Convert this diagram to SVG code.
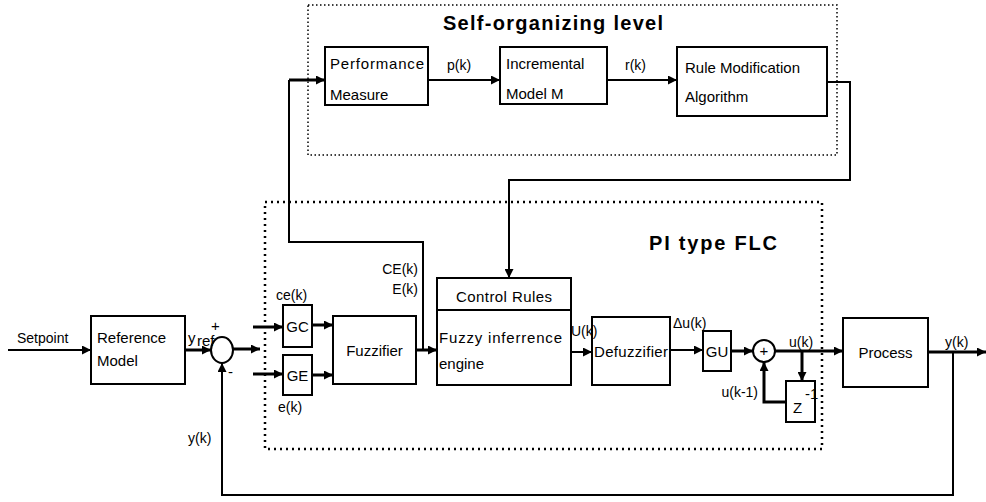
<svg xmlns="http://www.w3.org/2000/svg" width="986" height="502" viewBox="0 0 986 502">
<defs>
<style>
text{font-family:"Liberation Sans",Arial,sans-serif;fill:#000;font-size:15px}
.lbl{font-size:14px}
.title{font-size:20px;font-weight:bold}
.box{fill:#fff;stroke:#000;stroke-width:2}
.ln{fill:none;stroke:#000;stroke-width:2}
.thk{fill:none;stroke:#000;stroke-width:3}
.dot1{fill:none;stroke:#000;stroke-width:1.5;stroke-dasharray:1.5 2.5}
.dot2{fill:none;stroke:#000;stroke-width:2.5;stroke-dasharray:2 4}
</style>
<marker id="ah" viewBox="0 0 10 10" refX="10" refY="5" markerWidth="10" markerHeight="9" markerUnits="userSpaceOnUse" orient="auto">
<path d="M0,0 L10,5 L0,10 z" fill="#000"/>
</marker>
</defs>

<rect width="986" height="502" fill="#fff"/>

<g id="self-organizing-level">
<rect class="dot1" x="308" y="5" width="529" height="150"/>
<text class="title" x="443" y="30" textLength="220">Self-organizing level</text>
</g>
<g id="pi-type-flc">
<rect class="dot2" x="265" y="202" width="557" height="247"/>
<text class="title" x="649" y="250" font-size="19" textLength="128">PI type FLC</text>
</g>

<g id="connectors">
<line class="ln" x1="428" y1="80" x2="500" y2="80" marker-end="url(#ah)"/>
<line class="ln" x1="607" y1="80" x2="677" y2="80" marker-end="url(#ah)"/>
<polyline class="ln" points="827,82 850,82 850,180 509,180 509,278" marker-end="url(#ah)"/>
<polyline class="ln" points="423,350 423,242 289,242 289,80"/>
<line class="thk" x1="289" y1="80" x2="325" y2="80" marker-end="url(#ah)"/>
<line class="ln" x1="8" y1="350" x2="91" y2="350" marker-end="url(#ah)"/>
<line class="thk" x1="185" y1="350" x2="211" y2="350" marker-end="url(#ah)"/>
<line class="thk" x1="233" y1="349" x2="260" y2="349" marker-end="url(#ah)"/>
<line class="thk" x1="253" y1="327" x2="283" y2="327" marker-end="url(#ah)"/>
<line class="thk" x1="253" y1="374" x2="283" y2="374" marker-end="url(#ah)"/>
<line class="thk" x1="312" y1="325" x2="333" y2="325" marker-end="url(#ah)"/>
<line class="thk" x1="312" y1="375" x2="333" y2="375" marker-end="url(#ah)"/>
<line class="thk" x1="416" y1="350" x2="437" y2="350" marker-end="url(#ah)"/>
<line class="ln" x1="571" y1="352" x2="592" y2="352" marker-end="url(#ah)"/>
<line class="ln" x1="670" y1="350" x2="703" y2="350" marker-end="url(#ah)"/>
<line class="thk" x1="731" y1="351" x2="753" y2="351" marker-end="url(#ah)"/>
<line class="thk" x1="775" y1="351" x2="843" y2="351" marker-end="url(#ah)"/>
<line class="thk" x1="802" y1="351" x2="802" y2="381" marker-end="url(#ah)"/>
<polyline class="thk" points="786,402 764,402 764,362" marker-end="url(#ah)"/>
<line class="thk" x1="928" y1="352" x2="986" y2="352" marker-end="url(#ah)"/>
<polyline class="ln" points="953,352 953,495 222,495 222,363" marker-end="url(#ah)"/>
</g>

<g id="performance-measure">
<rect class="box" x="325" y="47" width="103" height="58"/>
<text x="330" y="69" textLength="94">Performance</text>
<text x="330" y="100">Measure</text>
</g>
<g id="incremental-model">
<rect class="box" x="500" y="47" width="107" height="57"/>
<text x="506" y="69">Incremental</text>
<text x="506" y="99">Model M</text>
</g>
<g id="rule-modification">
<rect class="box" x="677" y="47" width="150" height="69"/>
<text x="685" y="73">Rule Modification</text>
<text x="685" y="102">Algorithm</text>
</g>

<g id="reference-model">
<rect class="box" x="91" y="316" width="94" height="68"/>
<text x="97" y="343">Reference</text>
<text x="97" y="366">Model</text>
</g>
<g id="sum1">
<ellipse class="box" cx="222" cy="350" rx="11" ry="13"/>
</g>
<g id="gc">
<rect class="box" x="283" y="305" width="29" height="42"/>
<text x="297.5" y="332" text-anchor="middle">GC</text>
</g>
<g id="ge">
<rect class="box" x="283" y="355" width="29" height="40"/>
<text x="297.5" y="381" text-anchor="middle">GE</text>
</g>
<g id="fuzzifier">
<rect class="box" x="333" y="316" width="83" height="68"/>
<text x="374.5" y="356" text-anchor="middle">Fuzzifier</text>
</g>
<g id="control-rules">
<rect class="box" x="437" y="278" width="134" height="107"/>
<line class="ln" x1="437" y1="310" x2="571" y2="310"/>
<text x="504" y="302" text-anchor="middle" textLength="96">Control Rules</text>
<text x="439" y="343" textLength="123">Fuzzy inferrence</text>
<text x="439" y="369">engine</text>
</g>
<g id="defuzzifier">
<rect class="box" x="592" y="317" width="78" height="68"/>
<text x="594" y="357" textLength="74">Defuzzifier</text>
</g>
<g id="gu">
<rect class="box" x="703" y="331" width="28" height="40"/>
<text x="717" y="357" text-anchor="middle">GU</text>
</g>
<g id="sum2">
<circle class="box" cx="764" cy="351" r="11"/>
<text x="764" y="356" text-anchor="middle" font-size="13">+</text>
</g>
<g id="z-inverse">
<rect class="box" x="786" y="381" width="29" height="41"/>
<text x="793" y="413">Z</text>
<text x="805" y="399" font-size="10">-1</text>
</g>
<g id="process">
<rect class="box" x="843" y="318" width="85" height="69"/>
<text x="885.5" y="358" text-anchor="middle" font-size="16">Process</text>
</g>

<g id="labels">
<text class="lbl" x="17" y="343">Setpoint</text>
<text x="188" y="343">y</text>
<text x="197" y="346" font-size="9">ref</text>
<text x="211" y="331" font-size="12">+</text>
<text x="228" y="377" font-size="13">-</text>
<text class="lbl" x="188" y="443">y(k)</text>
<text class="lbl" x="276" y="300">ce(k)</text>
<text class="lbl" x="278" y="412">e(k)</text>
<text class="lbl" x="418" y="274" text-anchor="end">CE(k)</text>
<text class="lbl" x="418" y="294" text-anchor="end">E(k)</text>
<text class="lbl" x="447" y="70">p(k)</text>
<text class="lbl" x="625" y="70">r(k)</text>
<text class="lbl" x="571" y="336" font-size="13">U(k)</text>
<text class="lbl" x="673" y="328">Δu(k)</text>
<text class="lbl" x="789" y="347">u(k)</text>
<text class="lbl" x="758" y="397" text-anchor="end">u(k-1)</text>
<text class="lbl" x="945" y="347">y(k)</text>
</g>
</svg>
